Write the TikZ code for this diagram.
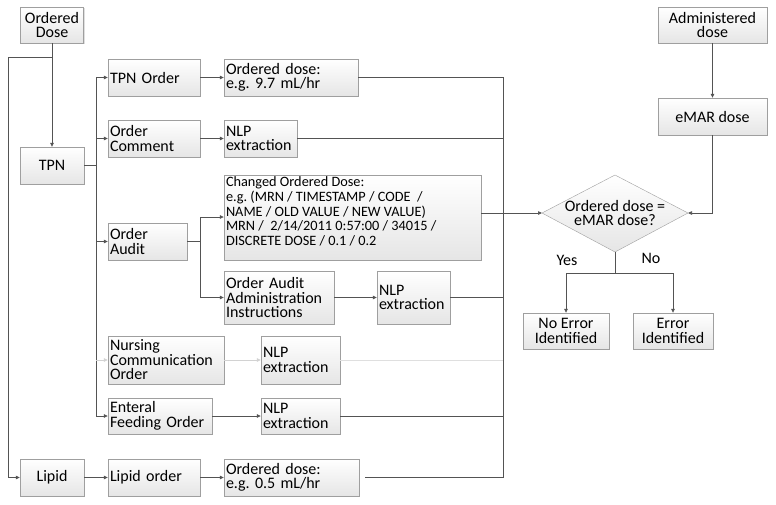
\documentclass[tikz,border=0pt]{standalone}
\usepackage{fontspec}
\setmainfont{Carlito}
\usetikzlibrary{arrows.meta,shadows}
\begin{document}
\frenchspacing
\begin{tikzpicture}[x=1pt,y=-1pt,
  base/.style={draw=gray!75, top color=white, bottom color=gray!20,
    font=\fontsize{16}{14.5}\selectfont, inner sep=2pt,
    drop shadow={shadow xshift=1.2pt, shadow yshift=-1.2pt, opacity=0.25, fill=gray}},
  cbox/.style={base, align=center},
  lbox/.style={base, align=left},
  conn/.style={draw=gray!65!black, line width=0.7pt},
  arr/.style={conn, -{Triangle[length=4pt,width=3.5pt]}},
  faint/.style={draw=gray!25, line width=0.7pt},
  farr/.style={faint, -{Triangle[length=4pt,width=3.5pt]}, draw=gray!35},
  lbl/.style={font=\fontsize{16}{14.5}\selectfont}
]
\useasboundingbox (0,0) rectangle (776,504);
\fill[white] (0,0) rectangle (776,504);

% left column
\node[cbox, minimum width=63pt, minimum height=36pt] (od) at (52,25) {Ordered\\Dose};
\node[cbox, minimum width=64pt, minimum height=37pt] (tpn) at (52,165.5) {TPN};
\node[cbox, minimum width=64pt, minimum height=37pt] (lipid) at (52,477.5) {Lipid};

% second column
\node[lbox, minimum width=92pt, text width=88pt, minimum height=37pt] (tpnorder) at (154,77.5) {TPN Order};
\node[lbox, minimum width=92pt, text width=88pt, minimum height=37pt] (ordcomment) at (154,138.5) {Order\\Comment};
\node[lbox, minimum width=79pt, text width=75pt, minimum height=37pt] (ordaudit) at (147.5,241.5) {Order\\Audit};
\node[lbox, minimum width=116pt, text width=112pt, minimum height=48pt] (nursing) at (166,360) {Nursing\\Communication\\Order};
\node[lbox, minimum width=104pt, text width=100pt, minimum height=36pt] (enteral) at (160,416) {Enteral\\Feeding Order};
\node[lbox, minimum width=92pt, text width=88pt, minimum height=37pt] (lipidorder) at (154,477.5) {Lipid order};

% third column
\node[lbox, minimum width=134pt, text width=130pt, minimum height=37pt] (dose1) at (291,77.5) {Ordered dose:\\e.g. 9.7 mL/hr};
\node[lbox, minimum width=73pt, text width=69pt, minimum height=37pt] (nlp1) at (260.5,138.5) {NLP\\extraction};
\node[base, minimum width=257pt, minimum height=85pt, font=\fontsize{14.3}{14.6}\selectfont] (changed) at (352.5,217.5) {\parbox[c][81pt][t]{253pt}{\raggedright Changed Ordered Dose:\\e.g. (MRN / TIMESTAMP / CODE\ \ /\\NAME / OLD VALUE / NEW VALUE)\\MRN /\ \ 2/14/2011 0:57:00 / 34015 /\\DISCRETE DOSE / 0.1 / 0.2}};
\node[lbox, minimum width=110pt, text width=106pt, minimum height=53pt] (admin) at (279,297.5) {Order Audit\\Administration\\Instructions};
\node[lbox, minimum width=73pt, text width=69pt, minimum height=53pt] (nlp2) at (413.5,297.5) {NLP\\extraction};
\node[lbox, minimum width=79pt, text width=75pt, minimum height=48pt] (nlp3) at (300.5,360) {NLP\\extraction};
\node[lbox, minimum width=79pt, text width=75pt, minimum height=36pt] (nlp4) at (300.5,416) {NLP\\extraction};
\node[lbox, minimum width=135pt, text width=131pt, minimum height=37pt] (dose2) at (291.5,477.5) {Ordered dose:\\e.g. 0.5 mL/hr};

% right part
\node[cbox, minimum width=109pt, minimum height=36pt] (admdose) at (712.5,25) {Administered\\dose};
\node[cbox, minimum width=109pt, minimum height=37pt] (emar) at (712.5,116.5) {eMAR dose};

\coordinate (dN) at (615,175);
\coordinate (dE) at (688,213);
\coordinate (dS) at (615,252);
\coordinate (dW) at (542,213);
\shade[draw=gray!75, top color=white, bottom color=gray!20] (dN) -- (dE) -- (dS) -- (dW) -- cycle;
\node[lbl, align=center] (dia) at (615,213) {Ordered dose =\\eMAR dose?};

\node[cbox, minimum width=86pt, minimum height=36pt] (noerr) at (566,331) {No Error\\Identified};
\node[cbox, minimum width=80pt, minimum height=36pt] (err) at (673,331) {Error\\Identified};

\node[lbl] (yes) at (567,260) {Yes};
\node[lbl] (no) at (651,258) {No};

% coordinates for buses
\coordinate (odsplit) at (52,57);
\coordinate (leftbus) at (8,57);
\coordinate (trunk) at (96,165.5);
\coordinate (abus) at (200,241.5);
\coordinate (col) at (503,213);
\coordinate (dsplit) at (615,273);

% connectors
\draw[arr] (od.south) -- (tpn.north);
\draw[arr] (odsplit) -- (leftbus) |- (lipid.west);
\draw[arr] (tpn.east) -- (trunk) |- (tpnorder.west);
\draw[arr] (tpn.east) -- (trunk) |- (ordcomment.west);
\draw[arr] (tpn.east) -- (trunk) |- (ordaudit.west);
\draw[arr] (trunk) |- (enteral.west);
\draw[farr] (trunk |- nursing.west) -- (nursing.west);

\draw[arr] (tpnorder.east) -- (dose1.west);
\draw[arr] (ordcomment.east) -- (nlp1.west);
\draw[conn] (ordaudit.east) -- (abus);
\draw[arr] (abus) |- (changed.west |- 0,217);
\draw[arr] (abus) |- (admin.west);
\draw[arr] (admin.east) -- (nlp2.west);
\draw[farr] (nursing.east) -- (nlp3.west);
\draw[arr] (enteral.east) -- (nlp4.west);
\draw[arr] (lipid.east) -- (lipidorder.west);
\draw[arr] (lipidorder.east) -- (dose2.west);

% collector
\draw[conn] (dose1.east) -| (col);
\draw[conn] ([xshift=6pt]dose2.east) -| (col);
\draw[conn] (nlp1.east) -- (nlp1.east -| col);
\draw[conn] (nlp2.east) -- (nlp2.east -| col);
\draw[faint] (nlp3.east) -- (nlp3.east -| col);
\draw[conn] (nlp4.east) -- (nlp4.east -| col);
\draw[arr] (changed.east |- dW) -- (dW);

\draw[arr] (admdose.south) -- (emar.north);
\draw[arr] (emar.south) |- (dE);
\draw[conn] (dS) -- (dsplit);
\draw[arr] (dsplit) -| (noerr.north);
\draw[arr] (dsplit) -| (err.north);
\end{tikzpicture}
\end{document}
